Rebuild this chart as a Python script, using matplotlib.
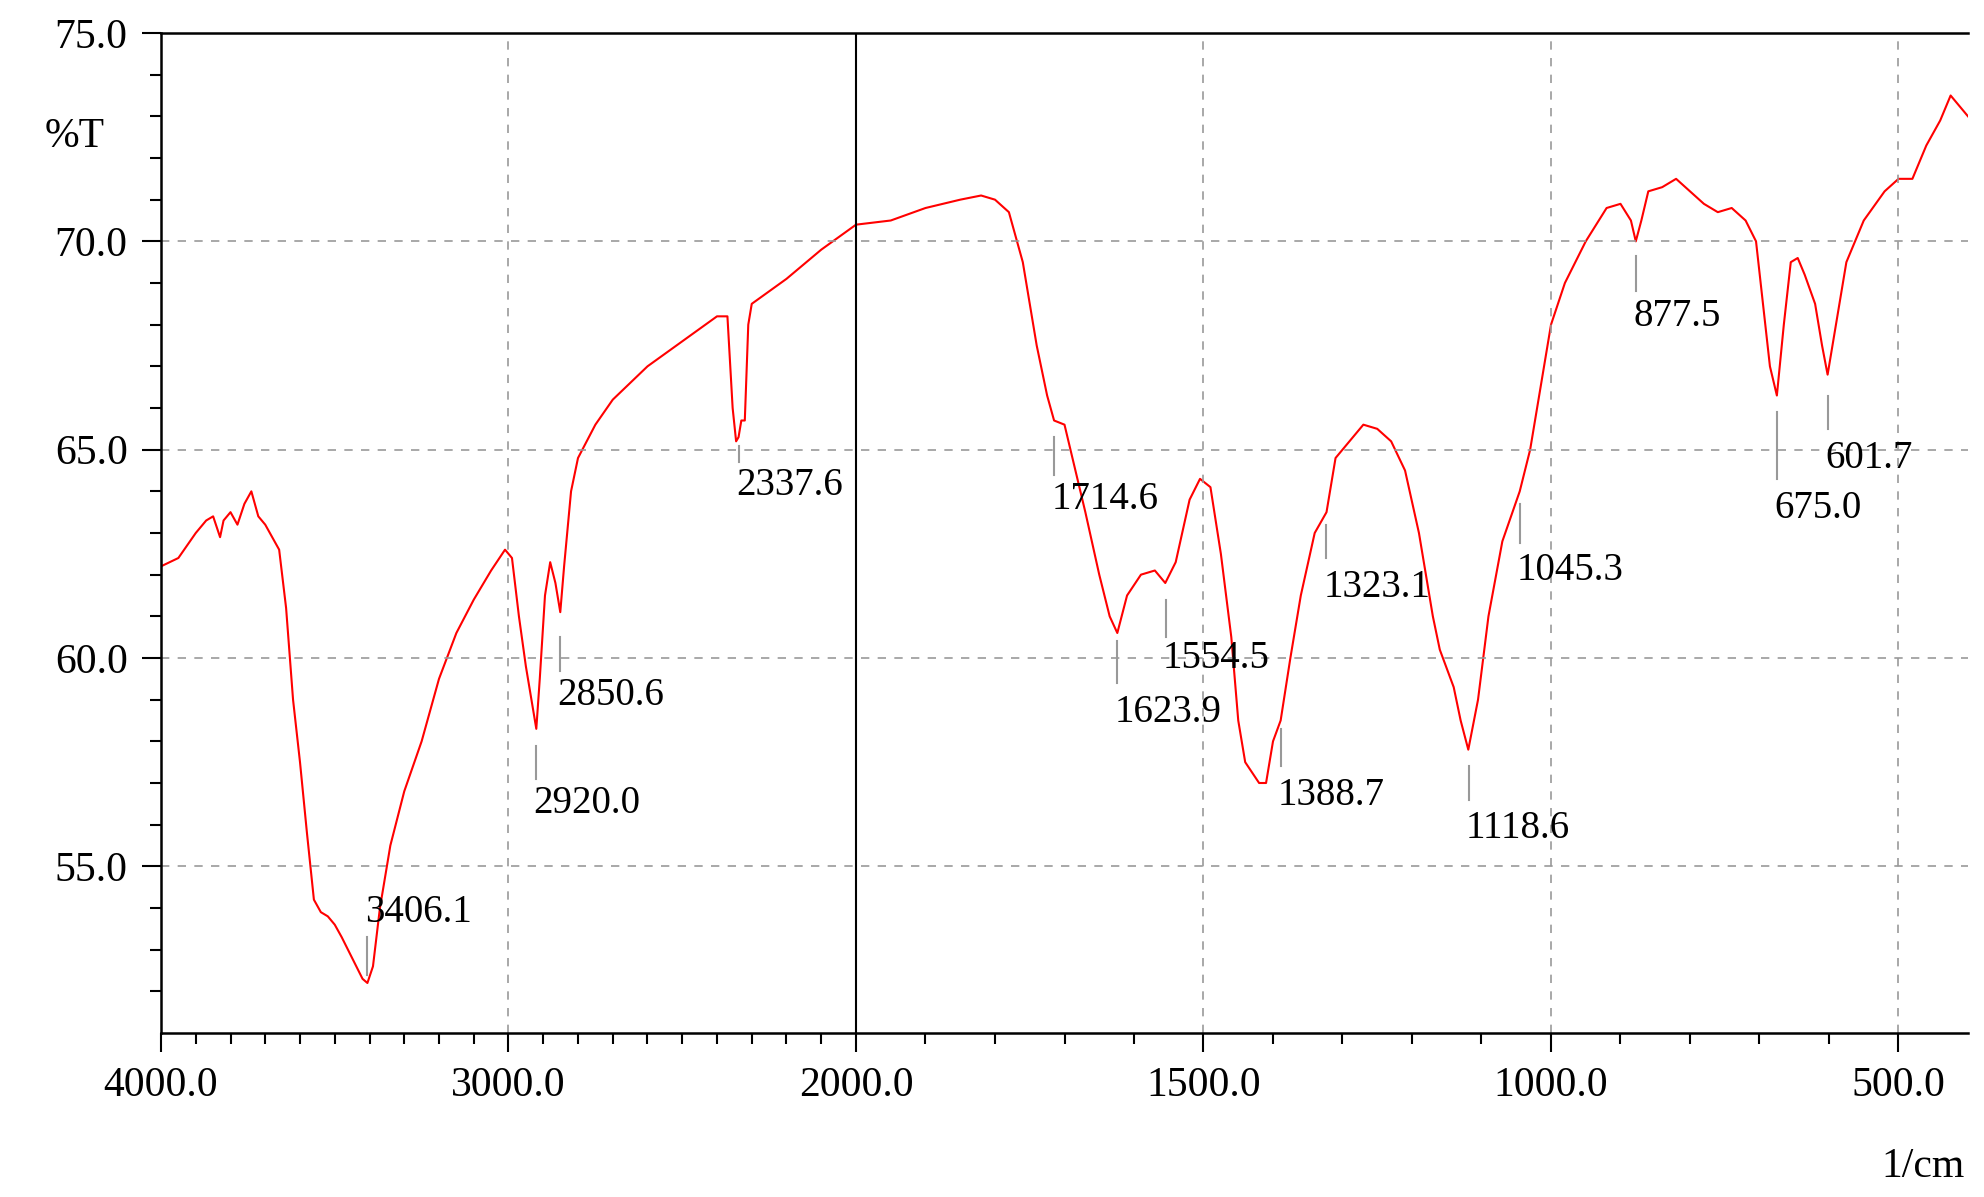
import matplotlib.pyplot as plt
import numpy as np

# spectrum (wavenumber 1/cm, %T)
wn = [4000, 3950, 3900, 3870, 3850, 3830, 3820, 3800, 3780, 3760, 3740, 3720, 3700, 3680, 3660,
      3640, 3620, 3600, 3580, 3560, 3540, 3520, 3500, 3480, 3450, 3420, 3406, 3390, 3370, 3340,
      3300, 3250, 3200, 3150, 3100, 3050, 3010, 2990, 2970, 2950, 2930, 2920, 2910, 2895, 2880,
      2865, 2851, 2840, 2820, 2800, 2750, 2700, 2600, 2500, 2400, 2370, 2355, 2345, 2338, 2330,
      2320, 2310, 2300, 2200, 2100, 2000, 1950, 1900, 1850, 1820, 1800, 1780, 1760, 1740, 1725,
      1715, 1700, 1690, 1670, 1650, 1635, 1624, 1610, 1590, 1570, 1555, 1540, 1520, 1505, 1490,
      1475, 1460, 1450, 1440, 1420, 1410, 1400, 1389, 1375, 1360, 1340, 1323, 1310, 1290, 1270,
      1250, 1230, 1210, 1190, 1170, 1160, 1140, 1130, 1119, 1105, 1090, 1070, 1045, 1030, 1010,
      1000, 980, 950, 920, 900, 885, 878, 870, 860, 840, 820, 800, 780, 760, 740, 720,
      705, 695, 685, 675, 665, 655, 645, 635, 620, 610, 602, 590, 575, 550, 520,
      500, 480, 460, 440, 425, 410, 400]
pt = [62.2, 62.4, 63.0, 63.3, 63.4, 62.9, 63.3, 63.5, 63.2, 63.7, 64.0, 63.4, 63.2, 62.9, 62.6,
      61.2, 59.0, 57.5, 55.8, 54.2, 53.9, 53.8, 53.6, 53.3, 52.8, 52.3, 52.2, 52.6, 54.0, 55.5,
      56.8, 58.0, 59.5, 60.6, 61.4, 62.1, 62.6, 62.4, 61.0, 59.8, 58.8, 58.3, 59.5, 61.5, 62.3,
      61.8, 61.1, 62.2, 64.0, 64.8, 65.6, 66.2, 67.0, 67.6, 68.2, 68.2, 66.0, 65.2, 65.3, 65.7,
      65.7, 68.0, 68.5, 69.1, 69.8, 70.4, 70.5, 70.8, 71.0, 71.1, 71.0, 70.7, 69.5, 67.5, 66.3,
      65.7, 65.6, 64.9, 63.5, 62.0, 61.0, 60.6, 61.5, 62.0, 62.1, 61.8, 62.3, 63.8, 64.3, 64.1,
      62.5, 60.5, 58.5, 57.5, 57.0, 57.0, 58.0, 58.5, 60.0, 61.5, 63.0, 63.5, 64.8, 65.2, 65.6,
      65.5, 65.2, 64.5, 63.0, 61.0, 60.2, 59.3, 58.5, 57.8, 59.0, 61.0, 62.8, 64.0, 65.0, 67.0,
      68.0, 69.0, 70.0, 70.8, 70.9, 70.5, 70.0, 70.5, 71.2, 71.3, 71.5, 71.2, 70.9, 70.7, 70.8, 70.5,
      70.0, 68.5, 67.0, 66.3, 68.0, 69.5, 69.6, 69.2, 68.5, 67.5, 66.8, 68.0, 69.5, 70.5, 71.2,
      71.5, 71.5, 72.3, 72.9, 73.5, 73.2, 73.0]

# peak labels: wavenumber, marker top, marker bottom, text y
peaks = [3406.1, 2920.0, 2850.6, 2337.6, 1714.6, 1623.9, 1554.5, 1388.7, 1323.1, 1118.6,
         1045.3, 877.5, 675.0, 601.7]
mark_top = [53.3, 57.9, 60.5, 65.1, 65.3, 60.4, 61.4, 58.3, 63.2, 57.4, 63.7, 69.65, 65.9, 66.3]
mark_bot = [52.4, 57.1, 59.7, 64.7, 64.4, 59.4, 60.5, 57.4, 62.4, 56.6, 62.75, 68.8, 64.3, 65.5]
text_y = [53.9, 56.5, 59.1, 64.15, 63.8, 58.7, 60.0, 56.7, 61.7, 55.9, 62.1, 68.2, 63.6, 64.8]


def fx(w):
    # instrument axis: 4000-2000 compressed, 2000-400 expanded x2
    w = np.asarray(w, dtype=float)
    return np.where(w >= 2000, (4000 - w) / 2000, 1 + (2000 - w) / 1000)


plt.rcParams['font.family'] = ['Liberation Serif', 'DejaVu Serif']
fig = plt.figure(figsize=(19.84, 11.97), dpi=100)
ax = fig.add_axes([161 / 1984, 1 - 1033 / 1197, (1968 - 161) / 1984, (1033 - 33) / 1197])

ax.plot(fx(wn), pt, color='red', lw=1.5)
for w, t, b, ty in zip(peaks, mark_top, mark_bot, text_y):
    ax.plot([fx(w), fx(w)], [b, t], color='#999999', lw=1.5)
    ax.text(fx(w) - 0.004, ty, f"{w:.1f}", fontsize=28, va='center', ha='left')

ax.set_xlim(0, 2.6)
ax.set_ylim(51, 75)
major_w = [4000, 3000, 2000, 1500, 1000, 500]
ax.set_xticks(fx(major_w))
ax.set_xticklabels([f"{w:.1f}" for w in major_w])
minor_w = [w for w in range(3900, 400, -100) if w not in major_w]
ax.set_xticks(fx(minor_w), minor=True)
ax.set_yticks([55, 60, 65, 70, 75])
ax.set_yticklabels(["55.0", "60.0", "65.0", "70.0", "75.0"])
ax.set_yticks(np.arange(52, 75, 1), minor=True)
ax.tick_params(which='major', length=14, width=1.5, labelsize=30, pad=10)
ax.tick_params(which='minor', length=8, width=1.5)

for w in [3000, 1500, 1000, 500]:
    ax.axvline(fx(w), color='#999999', ls=(0, (5, 5)), lw=1.2)
for y in [55, 60, 65, 70]:
    ax.axhline(y, color='#999999', ls=(0, (5, 5)), lw=1.2)
ax.axvline(fx(2000), color='black', lw=1.5)

ax.spines['right'].set_visible(False)
for s in ['left', 'bottom', 'top']:
    ax.spines[s].set_linewidth(1.8)

fig.text(75 / 1984, 1 - 137 / 1197, "%T", fontsize=30, va='center', ha='center')
fig.text(1965 / 1984, 1 - 1167 / 1197, "1/cm", fontsize=30, va='center', ha='right')

fig.savefig("out.png", dpi=100)
